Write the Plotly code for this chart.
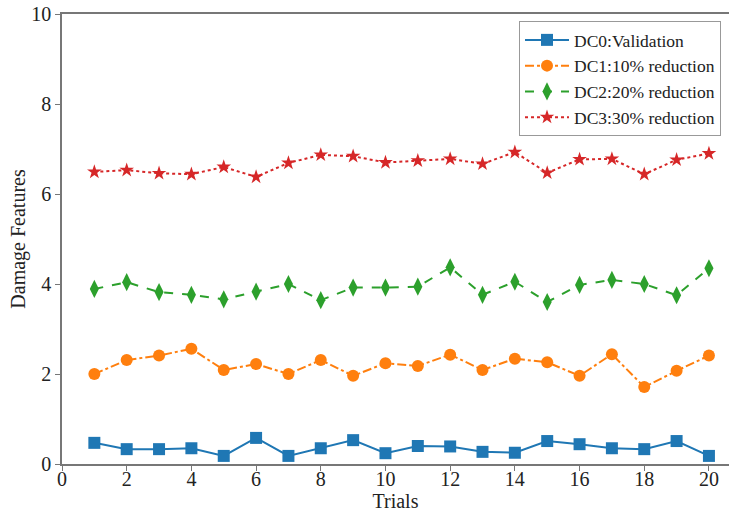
import plotly.graph_objects as go

trials = list(range(1, 21))

dc0 = [0.47, 0.33, 0.33, 0.35, 0.18, 0.58, 0.18, 0.35, 0.53, 0.24,
       0.40, 0.39, 0.27, 0.25, 0.51, 0.44, 0.35, 0.33, 0.51, 0.18]
dc1 = [2.00, 2.31, 2.41, 2.56, 2.09, 2.22, 2.00, 2.31, 1.96, 2.24,
       2.18, 2.43, 2.09, 2.34, 2.26, 1.96, 2.44, 1.71, 2.07, 2.41]
dc2 = [3.89, 4.04, 3.82, 3.76, 3.66, 3.83, 4.00, 3.64, 3.92, 3.92,
       3.94, 4.37, 3.76, 4.05, 3.60, 3.98, 4.09, 4.00, 3.75, 4.35]
dc3 = [6.49, 6.53, 6.46, 6.44, 6.60, 6.38, 6.69, 6.87, 6.84, 6.70,
       6.74, 6.78, 6.67, 6.93, 6.47, 6.77, 6.78, 6.44, 6.76, 6.90]

names = ["DC0:Validation", "DC1:10% reduction", "DC2:20% reduction", "DC3:30% reduction"]
colors = ["#1f77b4", "#ff7f0e", "#2ca02c", "#d62728"]
dashes = ["solid", "dashdot", "dash", "dot"]
symbols = ["square", "circle", "diamond-tall", "star"]
sizes = [12, 12, 13, 11]

fig = go.Figure()
for ys, name, c, d, s, sz in zip([dc0, dc1, dc2, dc3], names, colors, dashes, symbols, sizes):
    fig.add_trace(go.Scatter(
        x=trials, y=ys, name=name, mode="lines+markers",
        line=dict(color=c, width=2, dash=d),
        marker=dict(symbol=s, size=sz, color=c, line=dict(width=0)),
    ))

serif = "Liberation Serif"
axis_font = dict(family=serif, size=20, color="#222")
fig.update_layout(
    width=729, height=512,
    margin=dict(l=62, r=0, t=14, b=48),
    plot_bgcolor="white", paper_bgcolor="white",
    font=dict(family=serif, color="#222"),
    showlegend=True,
    legend=dict(
        x=(519 - 62) / 667, xanchor="left",
        y=1 - (21 - 14) / 450, yanchor="top",
        bgcolor="white", bordercolor="#999", borderwidth=1,
        font=dict(family=serif, size=17.5, color="#222"),
        tracegroupgap=0, itemwidth=44,
    ),
    xaxis=dict(
        range=[0, 20.62], tickvals=list(range(0, 21, 2)),
        ticks="outside", ticklen=5, tickcolor="#777",
        showline=True, linecolor="#777", linewidth=1.5, mirror=True,
        showgrid=False, zeroline=False,
        tickfont=axis_font, ticklabelstandoff=-9,
        title=dict(text="Trials", font=dict(family=serif, size=20, color="#222"), standoff=0),
    ),
    yaxis=dict(
        range=[0, 10], tickvals=list(range(0, 11, 2)),
        ticks="outside", ticklen=5, tickcolor="#777",
        showline=True, linecolor="#777", linewidth=1.5, mirror=False,
        showgrid=False, zeroline=False,
        tickfont=axis_font,
        title=dict(text="Damage Features", font=dict(family=serif, size=20, color="#222"), standoff=0),
    ),
)

fig.write_html("out.html")
